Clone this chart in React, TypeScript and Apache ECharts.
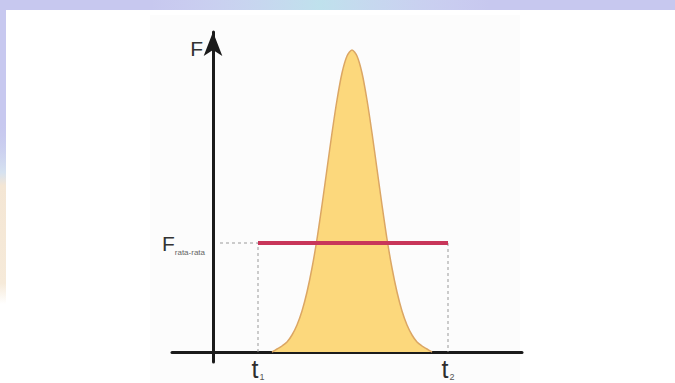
import React, { useEffect, useRef } from "react";
import * as echarts from "echarts";

// Time (t) and force (F) sample points along the impulse curve
const curveT = [
  5.9, 6.4, 6.9, 7.4, 7.9, 8.4, 8.9, 9.4, 9.9, 10.4, 10.9, 11.4, 11.9, 12.4, 12.9, 13.4, 13.9,
  14.4, 14.9, 15.4, 15.9, 16.4, 16.9, 17.4, 17.9, 18.4, 18.9, 19.4, 19.9, 20.4, 20.9, 21.4, 21.9,
];
const curveF = [
  0, 0.3, 0.6, 1.0, 1.7, 2.7, 4.1, 6.0, 8.4, 11.3, 14.7, 18.3, 21.9, 25.2, 27.9, 29.6, 30.2,
  29.6, 27.9, 25.2, 21.9, 18.3, 14.7, 11.3, 8.4, 6.0, 4.1, 2.7, 1.7, 1.0, 0.6, 0.3, 0,
];

// Interval limits and mean force
const t1 = 4.5;
const t2 = 23.5;
const fMean = 10.9;
const guideStartT = 0.7;

const tLabels: Record<string, string> = { "4.5": "{t|t}{s|1}", "23.5": "{t|t}{s|2}" };

export default function App() {
  const ref = useRef<HTMLDivElement>(null);

  useEffect(() => {
    if (!ref.current) return;
    const chart = echarts.init(ref.current, null, { renderer: "svg" });
    const lavender = "#c7c8ef";

    chart.setOption({
      animation: false,
      backgroundColor: lavender,
      graphic: [
        {
          type: "rect",
          z: -10,
          shape: { x: 150, y: 0, width: 340, height: 10 },
          style: {
            fill: new echarts.graphic.LinearGradient(0, 0, 1, 0, [
              { offset: 0, color: "rgba(215,220,245,0)" },
              { offset: 0.5, color: "rgba(190,228,236,0.9)" },
              { offset: 1, color: "rgba(215,220,245,0)" },
            ]),
          },
        },
        {
          type: "rect",
          z: -10,
          shape: { x: 0, y: 120, width: 6, height: 263 },
          style: {
            fill: new echarts.graphic.LinearGradient(0, 0, 0, 1, [
              { offset: 0, color: "rgba(199,200,239,0)" },
              { offset: 0.2, color: "#d6e2f0" },
              { offset: 0.25, color: "#f4e6d4" },
              { offset: 0.62, color: "#f6ead9" },
              { offset: 0.7, color: "#ffffff" },
              { offset: 1, color: "#ffffff" },
            ]),
          },
        },
        {
          type: "rect",
          z: -9,
          shape: { x: 6, y: 10, width: 669, height: 373 },
          style: { fill: "#ffffff" },
        },
        {
          type: "rect",
          z: -8,
          shape: { x: 150, y: 15, width: 370, height: 368 },
          style: { fill: "#fcfcfc" },
        },
      ],
      grid: {
        left: 172,
        right: 153,
        top: 32,
        bottom: 21,
        containLabel: false,
        outerBoundsMode: "none",
      },
      xAxis: {
        type: "value",
        min: -4.1,
        max: 30.9,
        splitLine: { show: false },
        axisTick: { show: false },
        axisLine: { onZero: true, lineStyle: { color: "#1b1b1b", width: 3 } },
        axisLabel: {
          customValues: [t1, t2],
          margin: -6,
          color: "#333",
          formatter: (v: number) => tLabels[String(v)] ?? "",
          rich: {
            t: { fontFamily: "Liberation Sans", fontSize: 25, color: "#2e2e2e" },
            s: { fontFamily: "Liberation Sans", fontSize: 9, color: "#555", verticalAlign: "bottom", padding: [0, 0, 0, 1] },
          },
        },
      },
      yAxis: {
        type: "value",
        min: -1,
        max: 32,
        name: "F",
        nameLocation: "end",
        nameGap: -6,
        nameTextStyle: {
          fontFamily: "Liberation Sans",
          fontSize: 21,
          color: "#333",
          align: "right",
          verticalAlign: "top",
          padding: [0, 10, 0, 0],
        },
        splitLine: { show: false },
        axisTick: { show: false },
        axisLine: {
          onZero: true,
          symbol: ["none", "arrow"],
          symbolSize: [14, 24],
          lineStyle: { color: "#1b1b1b", width: 3 },
        },
        axisLabel: {
          customValues: [fMean],
          margin: -33,
          formatter: () => "{f|F}{s|rata-rata}",
          rich: {
            f: { fontFamily: "Liberation Sans", fontSize: 21, color: "#333" },
            s: { fontFamily: "Liberation Sans", fontSize: 8, color: "#666", verticalAlign: "bottom", padding: [0, 0, -3, 0] },
          },
        },
      },
      series: [
        {
          name: "impuls",
          type: "line",
          data: curveT.map((t, i) => [t, curveF[i]]),
          smooth: 0.3,
          symbol: "none",
          z: 2,
          lineStyle: { color: "#dba664", width: 1.5 },
          areaStyle: { color: "#fcd87c", opacity: 1 },
        },
        {
          name: "guide-left",
          type: "line",
          data: [
            [guideStartT, fMean],
            [t1, fMean],
            [t1, 0],
          ],
          symbol: "none",
          z: 3,
          lineStyle: { color: "#9a9a9a", width: 1, type: [3, 3] },
        },
        {
          name: "guide-right",
          type: "line",
          data: [
            [t2, fMean],
            [t2, 0],
          ],
          symbol: "none",
          z: 3,
          lineStyle: { color: "#9a9a9a", width: 1, type: [3, 3] },
        },
        {
          name: "F rata-rata",
          type: "line",
          data: [
            [t1, fMean],
            [t2, fMean],
          ],
          symbol: "none",
          z: 4,
          lineStyle: { color: "#c8365a", width: 4, cap: "butt" },
        },
      ],
    });

    return () => chart.dispose();
  }, []);

  return (
    <div
      ref={ref}
      style={{ position: "absolute", left: 0, top: 0, width: 675, height: 383 }}
    />
  );
}
